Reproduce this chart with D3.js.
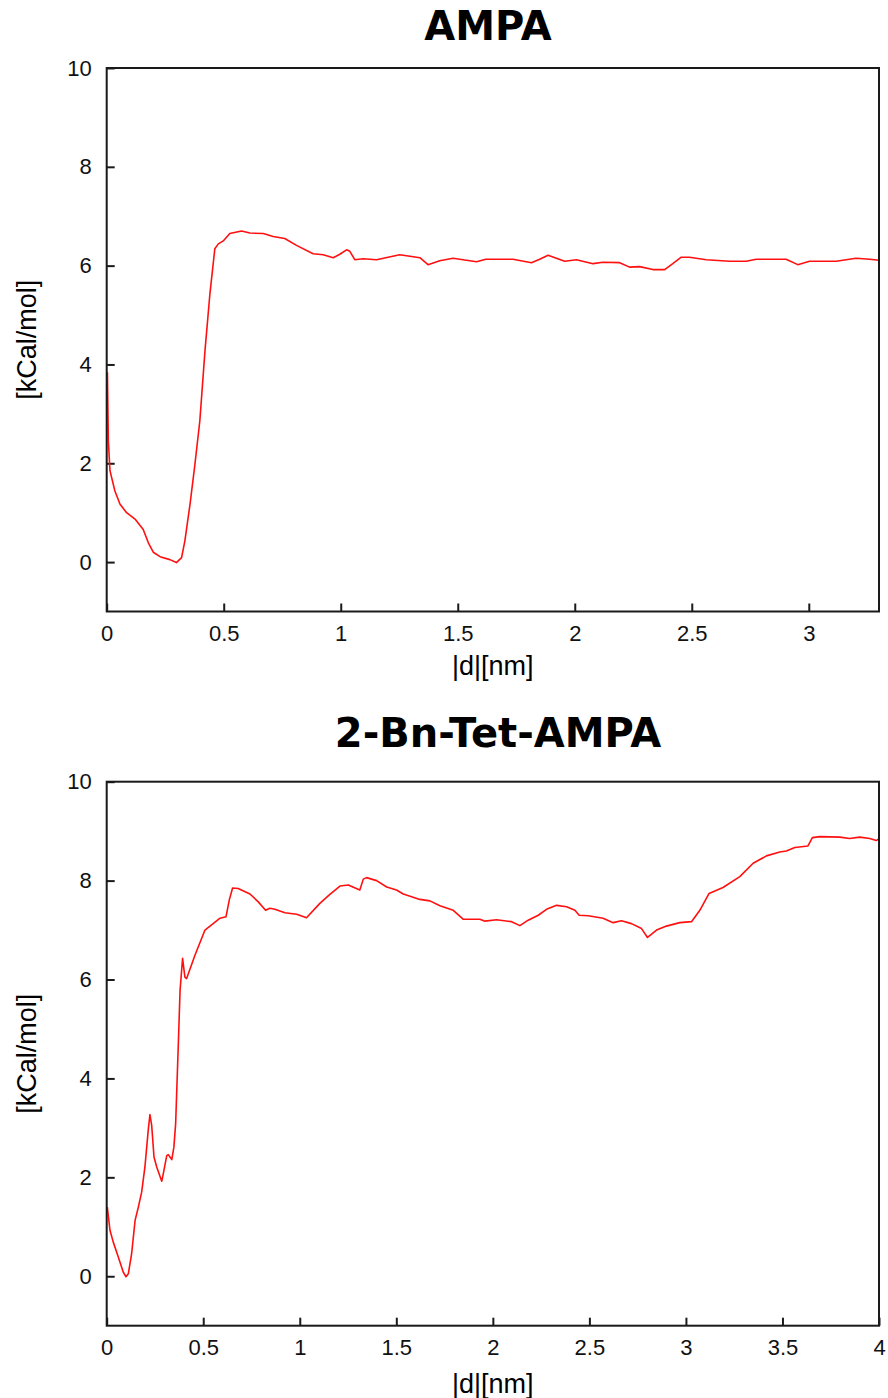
<!DOCTYPE html>
<html>
<head>
<meta charset="utf-8">
<script src="https://cdn.jsdelivr.net/npm/d3@7"></script>
<style>
  body { margin: 0; background: #fff; }
  svg { display: block; }
</style>
</head>
<body>
<svg id="chart" width="888" height="1398"></svg>
<script>
// AMPA curve: distance |d| [nm] and energy [kCal/mol]
var ampaD = [0.003, 0.007, 0.014, 0.035, 0.057, 0.085, 0.121, 0.156, 0.178, 0.199, 0.228, 0.27, 0.298,
  0.32, 0.334, 0.356, 0.377, 0.398, 0.42, 0.441, 0.462, 0.477, 0.498, 0.526, 0.576, 0.612, 0.669, 0.711,
  0.761, 0.811, 0.882, 0.925, 0.968, 0.996, 1.025, 1.039, 1.06, 1.096, 1.153, 1.252, 1.338, 1.373, 1.423,
  1.48, 1.58, 1.62, 1.736, 1.815, 1.85, 1.886, 1.957, 2.007, 2.078, 2.12, 2.192, 2.234, 2.277, 2.334,
  2.384, 2.419, 2.455, 2.49, 2.562, 2.661, 2.733, 2.775, 2.903, 2.953, 3.003, 3.117, 3.202, 3.26, 3.3];
var ampaE = [3.84, 2.45, 1.85, 1.44, 1.17, 1.0, 0.87, 0.66, 0.39, 0.2, 0.11, 0.05, -0.01,
  0.09, 0.43, 1.17, 1.98, 2.86, 4.28, 5.43, 6.34, 6.44, 6.5, 6.65, 6.7, 6.66, 6.65, 6.59,
  6.55, 6.41, 6.24, 6.22, 6.16, 6.23, 6.32, 6.29, 6.12, 6.14, 6.12, 6.22, 6.16, 6.02, 6.1,
  6.15, 6.08, 6.13, 6.13, 6.06, 6.13, 6.21, 6.09, 6.12, 6.04, 6.07, 6.06, 5.97, 5.98, 5.92,
  5.92, 6.04, 6.17, 6.17, 6.12, 6.09, 6.09, 6.13, 6.13, 6.02, 6.09, 6.09, 6.15, 6.13, 6.11];

// 2-Bn-Tet-AMPA curve
var bnD = [0.003, 0.017, 0.034, 0.06, 0.086, 0.1, 0.112, 0.129, 0.147, 0.164, 0.181, 0.198, 0.215, 0.224,
  0.233, 0.245, 0.259, 0.285, 0.293, 0.311, 0.319, 0.337, 0.348, 0.357, 0.371, 0.38, 0.393, 0.405, 0.414,
  0.457, 0.509, 0.587, 0.618, 0.635, 0.652, 0.681, 0.742, 0.785, 0.823, 0.845, 0.871, 0.923, 0.984, 1.035,
  1.104, 1.156, 1.208, 1.251, 1.311, 1.329, 1.346, 1.398, 1.45, 1.501, 1.536, 1.622, 1.674, 1.726, 1.795,
  1.846, 1.933, 1.959, 2.019, 2.097, 2.14, 2.183, 2.235, 2.278, 2.33, 2.382, 2.425, 2.447, 2.494, 2.571,
  2.623, 2.666, 2.718, 2.77, 2.801, 2.848, 2.899, 2.968, 3.029, 3.072, 3.12, 3.192, 3.279, 3.348, 3.417,
  3.486, 3.52, 3.564, 3.632, 3.655, 3.693, 3.797, 3.848, 3.9, 3.952, 3.986, 4.0];
var bnE = [1.4, 0.93, 0.69, 0.39, 0.08, -0.01, 0.05, 0.45, 1.13, 1.4, 1.7, 2.21, 2.95, 3.27,
  3.05, 2.41, 2.21, 1.92, 2.07, 2.44, 2.46, 2.36, 2.61, 3.08, 4.7, 5.78, 6.43, 6.05, 6.02,
  6.49, 7.0, 7.24, 7.27, 7.61, 7.85, 7.84, 7.73, 7.57, 7.4, 7.44, 7.42, 7.35, 7.32, 7.25,
  7.54, 7.72, 7.89, 7.91, 7.81, 8.03, 8.06, 8.0, 7.87, 7.81, 7.73, 7.62, 7.59, 7.49, 7.4,
  7.22, 7.22, 7.18, 7.21, 7.17, 7.09, 7.2, 7.3, 7.42, 7.5, 7.47, 7.4, 7.3, 7.29, 7.24,
  7.15, 7.19, 7.13, 7.03, 6.85, 7.0, 7.08, 7.15, 7.17, 7.4, 7.74, 7.86, 8.08, 8.35, 8.5,
  8.58, 8.6, 8.67, 8.7, 8.87, 8.89, 8.88, 8.85, 8.88, 8.85, 8.81, 8.85];

var yTicks = [0, 2, 4, 6, 8, 10];
var ampaTicks = [0, 0.5, 1, 1.5, 2, 2.5, 3];
var bnTicks = [0, 0.5, 1, 1.5, 2, 2.5, 3, 3.5, 4];

var svg = d3.select('#chart');
var left = 106.7, right = 879;

function drawPanel(opts) {
  var x = d3.scaleLinear().domain([0, opts.xMax]).range([left, right]);
  var y = d3.scaleLinear().domain([-1, 10]).range([opts.bottom, opts.top]);
  var g = svg.append('g');

  // Title
  g.append('text')
    .attr('x', opts.titleX)
    .attr('y', opts.titleY)
    .attr('text-anchor', 'middle')
    .style('font-family', '"DejaVu Sans", sans-serif')
    .style('font-weight', 'bold')
    .style('font-size', '40px')
    .text(opts.title);

  // Axes with inward ticks
  var xAxis = d3.axisBottom(x).tickValues(opts.xTicks).tickSizeInner(-8).tickSizeOuter(0)
    .tickPadding(14).tickFormat(d3.format('~g'));
  var yAxis = d3.axisLeft(y).tickValues(yTicks).tickSizeInner(-8).tickSizeOuter(0)
    .tickPadding(15);

  var gx = g.append('g').attr('transform', 'translate(0,' + opts.bottom + ')').call(xAxis);
  var gy = g.append('g').attr('transform', 'translate(' + left + ',0)').call(yAxis);
  [gx, gy].forEach(function (a) {
    a.select('.domain').remove();
    a.selectAll('line').attr('stroke', '#1a1a1a').attr('stroke-width', 2);
    a.selectAll('text')
      .attr('fill', '#111')
      .style('font-family', '"Liberation Sans", Arial, sans-serif')
      .style('font-size', '22px');
  });

  // Curve
  var pts = opts.d.map(function (v, i) { return [v, opts.e[i]]; });
  var line = d3.line().x(function (p) { return x(p[0]); }).y(function (p) { return y(p[1]); });
  g.append('path')
    .datum(pts)
    .attr('d', line)
    .attr('fill', 'none')
    .attr('stroke', '#ff1010')
    .attr('stroke-width', 1.6)
    .attr('stroke-linejoin', 'round');

  // Frame
  g.append('rect')
    .attr('x', left).attr('y', opts.top)
    .attr('width', right - left).attr('height', opts.bottom - opts.top)
    .attr('fill', 'none')
    .attr('stroke', '#1a1a1a')
    .attr('stroke-width', 2);

  // Axis labels
  g.append('text')
    .attr('x', (left + right) / 2)
    .attr('y', opts.xLabelY)
    .attr('text-anchor', 'middle')
    .style('font-family', '"Liberation Sans", Arial, sans-serif')
    .style('font-size', '27px')
    .text('|d|[nm]');

  g.append('text')
    .attr('transform', 'translate(36,' + ((opts.top + opts.bottom) / 2) + ') rotate(-90)')
    .attr('text-anchor', 'middle')
    .style('font-family', '"Liberation Sans", Arial, sans-serif')
    .style('font-size', '27px')
    .text('[kCal/mol]');
}

drawPanel({ title: 'AMPA', titleX: 488, titleY: 40, top: 68, bottom: 611.5, xMax: 3.3,
  xTicks: ampaTicks, d: ampaD, e: ampaE, xLabelY: 675 });
drawPanel({ title: '2-Bn-Tet-AMPA', titleX: 498, titleY: 746.5, top: 781.7, bottom: 1325.7, xMax: 4,
  xTicks: bnTicks, d: bnD, e: bnE, xLabelY: 1393 });
</script>
</body>
</html>
